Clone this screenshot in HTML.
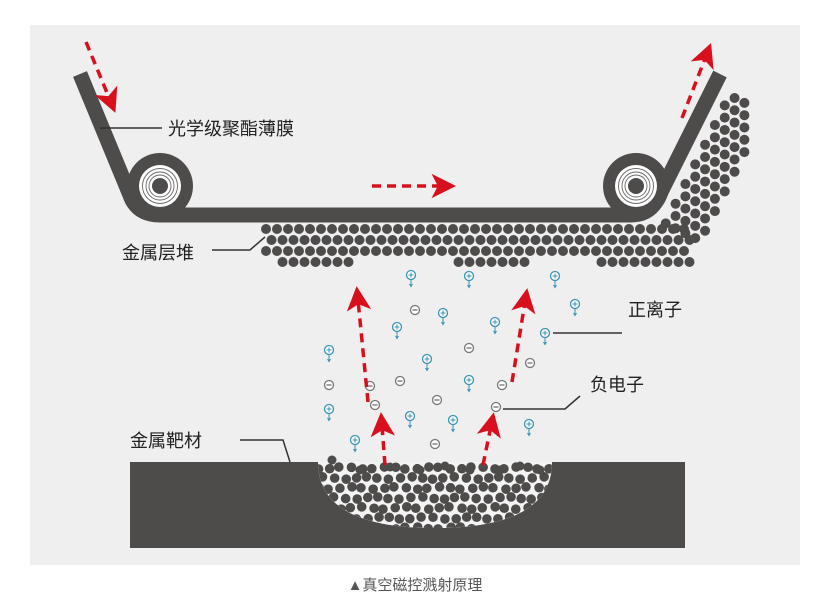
<!DOCTYPE html>
<html><head><meta charset="utf-8"><style>
body{margin:0;background:#fff;width:830px;height:604px;overflow:hidden}
svg{display:block}
text{font-family:"Liberation Sans","Noto Sans CJK SC",sans-serif}
</style></head><body>
<svg id="s" width="830" height="604" viewBox="0 0 830 604" xmlns="http://www.w3.org/2000/svg">
<defs>
<marker id="ah" markerWidth="7" markerHeight="7" refX="3" refY="3.5" orient="auto" markerUnits="strokeWidth"><path d="M0,0 L7,3.5 L0,7 L1.8,3.5z" fill="#d8101e"/></marker>
<clipPath id="bowl"><path d="M318,462 Q318,528 435,528 Q552,528 552,462 Z"/></clipPath>
</defs>
<rect x="30" y="25" width="770" height="540" fill="#efefef"/>
<g id="dots" fill="#4e4b4b"></g>
<path d="M80,74 L132,200 Q140,215 160,215 L630,215" fill="none" stroke="#4e4b4b" stroke-width="15"/>
<path d="M630,215 Q650,215 658,198 L720,74" fill="none" stroke="#4e4b4b" stroke-width="15"/>
<g id="rollers"></g>
<path d="M130,462 L318,462 Q318,528 435,528 Q552,528 552,462 L685,462 L685,548 L130,548 Z" fill="#4e4b4b"/>
<path d="M318,462 Q318,528 435,528 Q552,528 552,462 Z" fill="#f4f4f4"/>
<g id="bdots" fill="#4e4b4b" clip-path="url(#bowl)"></g>
<g id="particles"></g>
<g stroke="#d8101e" stroke-width="3.5" stroke-dasharray="9,6" fill="none" marker-end="url(#ah)">
<line x1="86" y1="42" x2="110" y2="100"/>
<line x1="372" y1="186" x2="442" y2="186"/>
<line x1="682" y1="118" x2="706" y2="56"/>
<line x1="368" y1="402" x2="358" y2="300"/>
<line x1="512" y1="382" x2="525" y2="302"/>
<line x1="385" y1="465" x2="382" y2="426"/>
<line x1="483" y1="465" x2="491" y2="426"/>
</g>
<g stroke="#333" stroke-width="1.5" fill="none">
<line x1="100" y1="128" x2="162" y2="128"/>
<polyline points="212,250 250,250 265,237"/>
<line x1="553" y1="333" x2="622" y2="333"/>
<polyline points="503,409 565,409 580,396"/>
<polyline points="240,440 283,440 290,462"/>
</g>
<g font-size="18" fill="#222">
<text x="168" y="135">光学级聚酯薄膜</text>
<text x="122" y="259">金属层堆</text>
<text x="628" y="316">正离子</text>
<text x="590" y="391">负电子</text>
<text x="130" y="447">金属靶材</text>
</g>
<text x="415" y="590" font-size="15" fill="#555" text-anchor="middle">▲真空磁控溅射原理</text>
</svg>
<script>
var NS="http://www.w3.org/2000/svg";
function c(g,x,y,r,a){var e=document.createElementNS(NS,"circle");e.setAttribute("cx",x);e.setAttribute("cy",y);e.setAttribute("r",r);for(var k in a)e.setAttribute(k,a[k]);g.appendChild(e);return e;}
var D=document.getElementById("dots");
var rows=[229,240,251,262];
rows.forEach(function(y,i){var off=i%2?5.5:0;for(var x=266+off;x<690;x+=11){
 if(i==3&&!((x<357)||(x>455&&x<525)||(x>600)))continue;
 if(i==3&&x<280)continue;c(D,x,y,5);}});
// slanted band along right strip
for(var j=0;j<14;j++){for(var k=0;k<4;k++){var t=j*11;var o=12+k*11+(j%2?5.5:0);
 var x=655+t*0.447+o*0.894, y=218-t*0.894+o*0.447;
 if(y>258||x>745)continue; c(D,x,y,5);}}
var R=document.getElementById("rollers");
[[160,186],[636,186]].forEach(function(p){c(R,p[0],p[1],33,{fill:"#4e4b4b"});c(R,p[0],p[1],21,{fill:"#fff"});
[17.5,14,11].forEach(function(r){c(R,p[0],p[1],r,{fill:"none",stroke:"#6a6767","stroke-width":0.9});});c(R,p[0],p[1],8,{fill:"#4e4b4b"});});
var B=document.getElementById("bdots");
for(var y=468,i=0;y<530;y+=10,i++){for(var x=318+(i%2?5:0);x<555;x+=11){c(B,x+Math.sin(x*y)*1.2,y+Math.cos(x+y)*1.2,4.8);}}
var Bt=document.getElementById("particles");
[[332,460],[360,470],[390,467],[420,470],[445,466],[470,470],[500,470],[520,466],[540,470]].forEach(function(p){c(Bt,p[0],p[1],4.5,{fill:"#4e4b4b"});});
function ion(x,y){c(Bt,x,y,4.5,{fill:"#fff",stroke:"#3a93b5","stroke-width":1.3});
 var t=document.createElementNS(NS,"path");t.setAttribute("d","M"+(x-2.5)+","+y+"h5M"+x+","+(y-2.5)+"v5M"+x+","+(y+5)+"v6M"+(x-1.5)+","+(y+9)+"l1.5,2.5l1.5,-2.5");t.setAttribute("stroke","#3a93b5");t.setAttribute("stroke-width","1");t.setAttribute("fill","none");Bt.appendChild(t);}
function el(x,y){c(Bt,x,y,4.5,{fill:"#fff",stroke:"#777","stroke-width":1.3});
 var t=document.createElementNS(NS,"path");t.setAttribute("d","M"+(x-2.5)+","+y+"h5");t.setAttribute("stroke","#666");t.setAttribute("stroke-width","1.2");Bt.appendChild(t);}
[[411,275],[469,276],[555,276],[575,304],[397,327],[443,313],[495,322],[545,333],[329,350],[427,359],[469,380],[329,409],[410,416],[453,420],[529,424],[355,440]].forEach(function(p){ion(p[0],p[1]);});
[[415,310],[469,348],[530,363],[329,385],[370,386],[400,381],[502,385],[375,405],[437,400],[496,407],[435,444]].forEach(function(p){el(p[0],p[1]);});
</script>
</body></html>
